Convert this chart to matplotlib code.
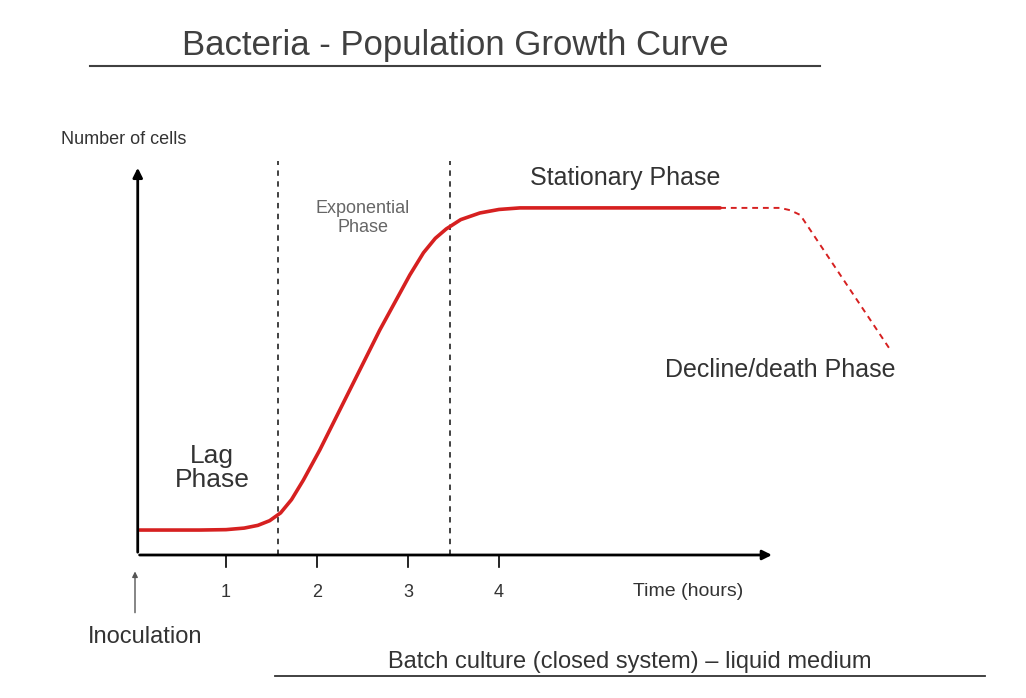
import numpy as np
import matplotlib.pyplot as plt
from matplotlib.lines import Line2D

plt.rcParams['font.family'] = ['Liberation Sans', 'DejaVu Sans']

# growth curve (time in hours, cells in arbitrary units)
t_growth = [0.05, 0.71, 1.00, 1.20, 1.35, 1.48, 1.60, 1.72, 1.85, 2.03, 2.36, 2.69, 3.02,
            3.17, 3.30, 3.42, 3.58, 3.79, 4.00, 4.23, 6.43]
n_growth = [0.64, 0.64, 0.65, 0.69, 0.76, 0.88, 1.08, 1.42, 1.92, 2.69, 4.23, 5.77, 7.18,
            7.75, 8.12, 8.36, 8.60, 8.77, 8.86, 8.90, 8.90]
t_decline = [6.43, 7.09, 7.20, 7.31, 8.30]
n_decline = [8.90, 8.90, 8.84, 8.72, 5.26]
phase_bounds = [1.57, 3.46]
ticks = [1, 2, 3, 4]

W, H = 1026, 698
fig = plt.figure(figsize=(W / 100, H / 100), dpi=100)
ax = fig.add_axes([0, 0, 1, 1])
ax.set_xlim(-135 / 91, (W - 135) / 91)
ax.set_ylim((555 - H) / 39, 555 / 39)
ax.axis('off')

def fx(px):
    return px / W

def fy(py):
    return 1 - py / H

txt = '#333333'
arrow = dict(arrowstyle='-|>', color='black', lw=2, mutation_scale=14)

# axes with arrows
ax.annotate('', xy=(7.03, 0), xytext=(0.02, 0), arrowprops=arrow)
ax.annotate('', xy=(0.03, 10.0), xytext=(0.03, 0), arrowprops=arrow)
for t in ticks:
    ax.plot([t, t], [0, -0.3], color='black', lw=1.2)
    ax.text(t, -0.95, str(t), ha='center', va='center', fontsize=13, color=txt)

# inoculation arrow
ax.annotate('', xy=(0.0, -0.35), xytext=(0.0, -1.55),
            arrowprops=dict(arrowstyle='-|>', color='#555555', lw=1, mutation_scale=8))

# phase boundaries
for b in phase_bounds:
    ax.plot([b, b], [0, 10.1], color='#333333', lw=1.3, ls=(0, (3, 3)))

ax.plot(t_growth, n_growth, color='#d62020', lw=2.6, solid_capstyle='round')
ax.plot(t_decline, n_decline, color='#d62020', lw=1.4, ls=(0, (3, 2.5)))

# texts
fig.text(fx(455), fy(45), 'Bacteria - Population Growth Curve', ha='center', va='center',
         fontsize=25, color='#404040')
fig.add_artist(Line2D([fx(90), fx(820)], [fy(66), fy(66)], color='#404040', lw=1.5))
fig.text(fx(630), fy(662), 'Batch culture (closed system) \u2013 liquid medium', ha='center',
         va='center', fontsize=17, color=txt)
fig.add_artist(Line2D([fx(275), fx(985)], [fy(676), fy(676)], color=txt, lw=1.3))
fig.text(fx(124), fy(140), 'Number of cells', ha='center', va='center', fontsize=13, color=txt)
fig.text(fx(145), fy(637), 'Inoculation', ha='center', va='center', fontsize=17, color=txt)
fig.text(fx(688), fy(592), 'Time (hours)', ha='center', va='center', fontsize=14, color=txt)
fig.text(fx(212), fy(468), 'Lag\nPhase', ha='center', va='center', fontsize=19,
         color=txt, linespacing=1.05)
fig.text(fx(363), fy(218), 'Exponential\nPhase', ha='center', va='center', fontsize=13,
         color='#666666', linespacing=1.2)
fig.text(fx(625), fy(178), 'Stationary Phase', ha='center', va='center', fontsize=18, color=txt)
fig.text(fx(780), fy(370), 'Decline/death Phase', ha='center', va='center', fontsize=18, color=txt)

fig.savefig('out.png', dpi=100)
